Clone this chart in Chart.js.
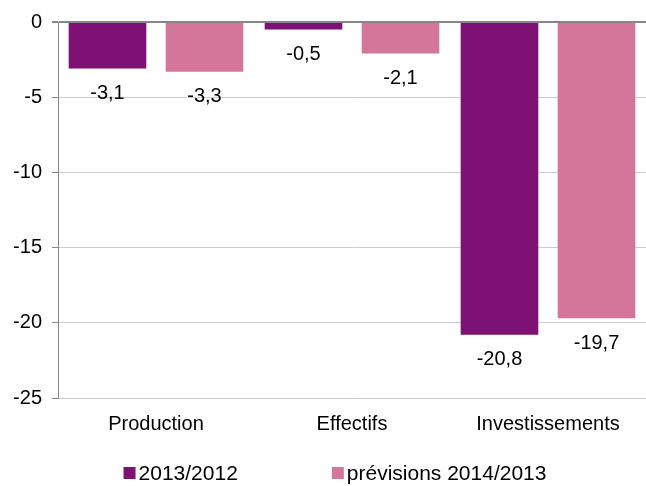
<!DOCTYPE html>
<html>
<head>
<meta charset="utf-8">
<script src="https://cdn.jsdelivr.net/npm/chart.js@4/dist/chart.umd.min.js"></script>
<style>
  html, body { margin: 0; padding: 0; background: #fff; }
  canvas { display: block; }
</style>
</head>
<body>
<canvas id="chart" width="646" height="486"></canvas>
<script>
const categories = ['Production', 'Effectifs', 'Investissements'];
const seriesNames = ['2013/2012', 'prévisions 2014/2013'];
const values2013 = [-3.1, -0.5, -20.8];
const values2014 = [-3.3, -2.1, -19.7];
const yTicks = [0, -5, -10, -15, -20, -25];

const FONT = '"Liberation Sans", Arial, sans-serif';
const colors = ['#7D1274', '#D4759A'];

// value labels under each bar end, decimal comma
const barLabels = {
  id: 'barLabels',
  afterDatasetsDraw(chart) {
    const ctx = chart.ctx;
    ctx.save();
    ctx.font = '20px ' + FONT;
    ctx.fillStyle = '#000';
    ctx.textAlign = 'center';
    ctx.textBaseline = 'middle';
    chart.data.datasets.forEach((ds, i) => {
      chart.getDatasetMeta(i).data.forEach((bar, j) => {
        const txt = String(ds.data[j]).replace('.', ',');
        ctx.fillText(txt, bar.x, bar.y + 25);
      });
    });
    ctx.restore();
  }
};

// simple legend at the bottom, wide gap between items
const bottomLegend = {
  id: 'bottomLegend',
  afterDraw(chart) {
    const ctx = chart.ctx;
    ctx.save();
    ctx.font = '21px ' + FONT;
    ctx.textBaseline = 'middle';
    ctx.textAlign = 'left';
    const box = 12, gapText = 3, gapItem = 94;
    const widths = chart.data.datasets.map(ds => ctx.measureText(ds.label).width);
    let total = 0;
    widths.forEach((w, i) => { total += box + gapText + w + (i ? gapItem : 0); });
    let x = 335 - total / 2;
    const y = 473;
    chart.data.datasets.forEach((ds, i) => {
      ctx.fillStyle = ds.backgroundColor;
      ctx.fillRect(x, y - box / 2, box, box);
      ctx.fillStyle = '#000';
      ctx.fillText(ds.label, x + box + gapText, y + 1);
      x += box + gapText + widths[i] + gapItem;
    });
    ctx.restore();
  }
};

new Chart(document.getElementById('chart'), {
  type: 'bar',
  data: {
    labels: categories,
    datasets: [
      { label: seriesNames[0], data: values2013, backgroundColor: colors[0] },
      { label: seriesNames[1], data: values2014, backgroundColor: colors[1] }
    ]
  },
  options: {
    responsive: false,
    animation: false,
    categoryPercentage: 0.99,
    barPercentage: 0.8,
    layout: { padding: { top: 22, right: 0, left: 0, bottom: 36 } },
    plugins: {
      legend: { display: false },
      tooltip: { enabled: false }
    },
    scales: {
      x: {
        grid: { display: false, drawTicks: false },
        border: { display: false },
        ticks: { color: '#000', font: { family: FONT, size: 20 }, padding: 14 }
      },
      y: {
        min: -25,
        max: 0,
        afterBuildTicks(axis) { axis.ticks = yTicks.map(v => ({ value: v })); },
        afterFit(axis) { axis.width = 58; },
        ticks: { color: '#000', font: { family: FONT, size: 20 }, padding: 10 },
        grid: {
          color: c => (c.tick && c.tick.value === 0 ? '#868686' : '#CCCCCC'),
          lineWidth: c => (c.tick && c.tick.value === 0 ? 2 : 1),
          tickColor: '#868686',
          tickLength: 6
        },
        border: { color: '#868686', width: 1 }
      }
    }
  },
  plugins: [barLabels, bottomLegend]
});
</script>
</body>
</html>
